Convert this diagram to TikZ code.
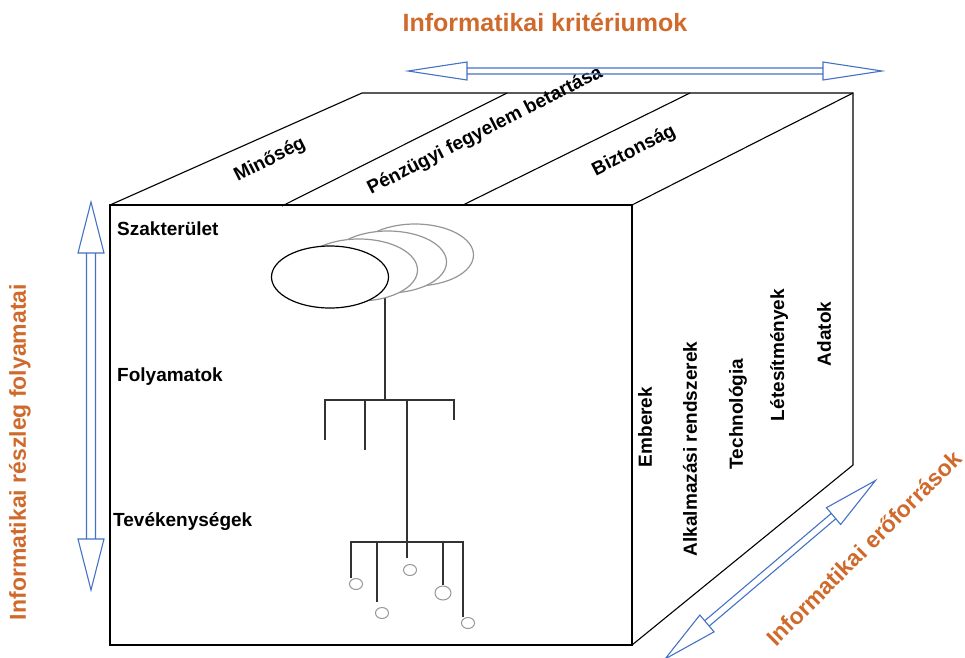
\documentclass[tikz,border=0pt]{standalone}
\usepackage{fontspec}
\setmainfont{Liberation Sans}
\usetikzlibrary{shapes.geometric}
\definecolor{krit}{RGB}{208,106,44}
\definecolor{nyil}{RGB}{68,114,196}
\definecolor{szurke}{RGB}{150,150,150}
\definecolor{ag}{RGB}{50,50,50}

% hollow double arrow along the x axis: length, head length, head half width, shaft half width
\newcommand{\dblarrow}[4]{%
  \draw[nyil, line width=1.1pt, line join=miter]
    (0,0) -- (#2,#3) -- (#2,-#3) -- cycle
    (#1,0) -- ({#1-#2},#3) -- ({#1-#2},-#3) -- cycle
    (#2,-#4) rectangle ({#1-#2},#4);}

\tikzset{
  felirat/.style={font=\fontsize{19}{21}\selectfont\bfseries, inner sep=0pt},
  cim/.style={font=\fontsize{24}{26}\selectfont\bfseries, text=krit, inner sep=0pt},
  kocka/.style={line width=1.1pt, line join=miter},
  ag/.style={draw=ag, line width=1.4pt},
  szak/.style={ellipse, draw, fill=white, line width=1.2pt, minimum width=117, minimum height=62, inner sep=0pt},
  kor/.style={ellipse, draw=szurke, line width=1pt, minimum width=13, minimum height=11, inner sep=0pt}
}

\begin{document}
\begin{tikzpicture}[x=1pt,y=-1pt]
  \useasboundingbox (0,0) rectangle (965,657);
  \clip (0,0) rectangle (965,657);

  % cube
  \coordinate (fa) at (110,205);
  \coordinate (fb) at (632,205);
  \coordinate (fc) at (632,645);
  \coordinate (fd) at (110,645);
  \coordinate (ha) at (362,93);
  \coordinate (hb) at (853,93);
  \coordinate (hc) at (853,465);
  \draw[kocka] (fa) rectangle (fc);
  \draw[kocka] (fa) -- (ha) -- (hb) -- (hc) -- (fc);
  \draw[kocka] (fb) -- (hb);
  \draw[kocka] (282,206) -- (507,93);
  \draw[kocka] (463,205) -- (690,93);

  % top face
  \node[felirat, rotate=27] (min) at (270,160) {Minőség};
  \node[felirat, rotate=27] (penz) at (485,131) {Pénzügyi fegyelem betartása};
  \node[felirat, rotate=27] (bizt) at (634,151) {Biztonság};

  % front face
  \node[felirat, anchor=west] (szakt) at (117,229) {Szakterület};
  \node[felirat, anchor=west] (foly) at (117,377) {Folyamatok};
  \node[felirat, anchor=west] (tev) at (113,522) {Tevékenységek};

  % right face
  \node[felirat, rotate=90] (emb) at (645,427) {Emberek};
  \node[felirat, rotate=90] (alk) at (690,449) {Alkalmazási rendszerek};
  \node[felirat, rotate=90] (tech) at (738,414) {Technológia};
  \node[felirat, rotate=90] (let) at (779,355) {Létesítmények};
  \node[felirat, rotate=90] (adat) at (824,334) {Adatok};

  % tree
  \coordinate (stem) at (385,275);
  \coordinate (j1) at (385,400);
  \coordinate (j2) at (407,542);
  \draw[ag] (stem) -- (j1);
  \draw[ag] (325,440) -- (325,400) -- (454,400) -- (454,420);
  \draw[ag] (365,400) -- (365,450);
  \draw[ag] (407,400) -- (j2);
  \draw[ag] (351,578) -- (351,542) -- (463,542) -- (463,617);
  \draw[ag] (377,542) -- (377,602);
  \draw[ag] (j2) -- (407,558);
  \draw[ag] (443,542) -- (443,585);
  \node[kor] (k1) at (356,584) {};
  \node[kor] (k2) at (382,613) {};
  \node[kor] (k3) at (410,570) {};
  \node[kor, minimum width=16, minimum height=14] (k4) at (443,593) {};
  \node[kor] (k5) at (468,623) {};

  % domains
  \node[szak, draw=szurke] (e4) at (415,255) {};
  \node[szak, draw=szurke] (e3) at (388,262) {};
  \node[szak, draw=szurke] (e2) at (359,270) {};
  \node[szak] (e1) at (330,277) {};

  % axes
  \begin{scope}[shift={(408,71)}]
    \dblarrow{474}{59}{9}{3}
  \end{scope}
  \begin{scope}[shift={(91,590)}, rotate=90]
    \dblarrow{388}{51}{13}{4.5}
  \end{scope}
  \begin{scope}[shift={(665,659)}, rotate=40.3]
    \dblarrow{276}{55}{11}{3.5}
  \end{scope}

  \node[cim, font=\fontsize{25}{27}\selectfont\bfseries] (krit) at (545,22) {Informatikai kritériumok};
  \node[cim, font=\fontsize{23}{25}\selectfont\bfseries, rotate=90] (resz) at (20,452) {Informatikai részleg folyamatai};
  \node[cim, font=\fontsize{23}{25}\selectfont\bfseries, rotate=45] (ero) at (864,548) {Informatikai erőforrások};
\end{tikzpicture}
\end{document}
